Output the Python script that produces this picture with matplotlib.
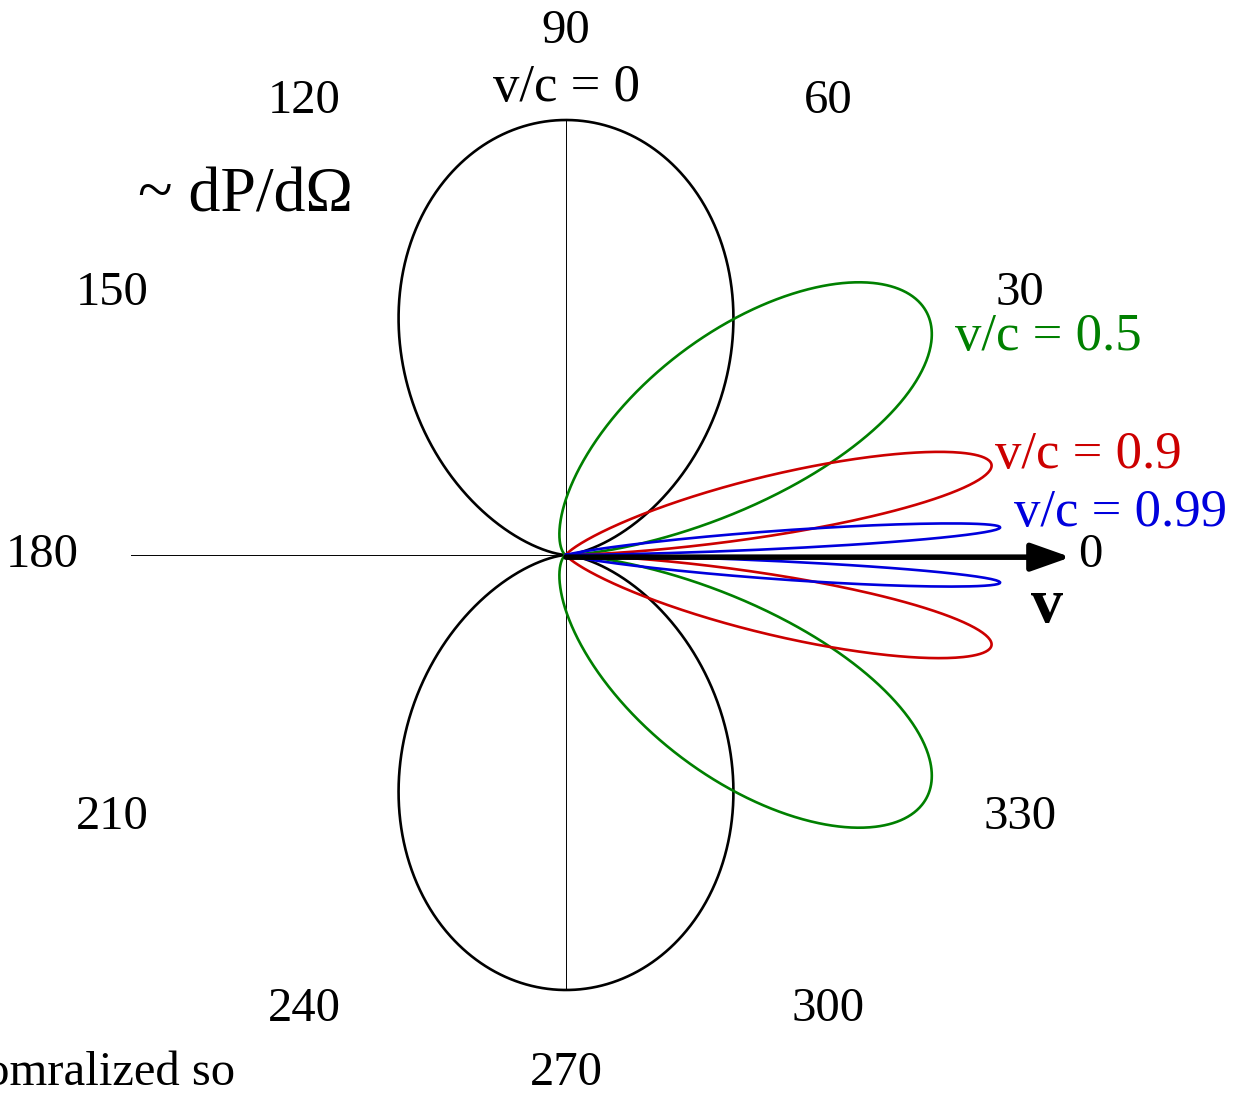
import numpy as np
import matplotlib
matplotlib.use("Agg")
import matplotlib.pyplot as plt

# velocities (v/c) and their colours
betas = [0.0, 0.5, 0.9, 0.99]
colors = ["black", "#008000", "#cc0000", "#0000dd"]
curve_labels = ["v/c = 0", "v/c = 0.5", "v/c = 0.9", "v/c = 0.99"]
angle_ticks = [0, 30, 60, 90, 120, 150, 180, 210, 240, 270, 300, 330]

plt.rcParams['font.family'] = ['Liberation Serif', 'DejaVu Serif']

fig = plt.figure(figsize=(12.48, 10.98), dpi=100)
ax = fig.add_axes([0, 0, 1, 1])
ax.set_xlim(-566 / 435, (1248 - 566) / 435)
ax.set_ylim((555 - 1098) / 435, 555 / 435)
ax.set_aspect('equal')
ax.axis('off')

# axis lines
ax.plot([-1.0, 0], [0, 0], color='black', lw=0.7)
ax.plot([0, 0], [-1, 1], color='black', lw=0.7)

# radiation pattern ~ sin^2 / (1 - b cos)^6, each normalised to 1
th = np.linspace(0, 2 * np.pi, 3000)
for b, c in zip(betas, colors):
    r = np.sin(th) ** 2 / (1 - b * np.cos(th)) ** 6
    r = r / r.max()
    ax.plot(r * np.cos(th), r * np.sin(th), color=c, lw=1.9)

# velocity arrow
ax.annotate('', xy=(1.16, -0.005), xytext=(0, -0.005),
            arrowprops=dict(arrowstyle='-|>,head_length=2.4,head_width=0.85',
                            color='black', lw=4, shrinkA=0, shrinkB=0))

# angle labels
for a in angle_ticks:
    t = np.deg2rad(a)
    rr = 1.19 if a == 270 else 1.205
    ax.text(rr * np.cos(t), rr * np.sin(t), str(a), fontsize=35,
            ha='center', va='center')

ax.text(0, 1.074, curve_labels[0], fontsize=38, ha='center', va='center', color=colors[0])
ax.text(1.108, 0.501, curve_labels[1], fontsize=38, ha='center', va='center', color=colors[1])
ax.text(1.20, 0.23, curve_labels[2], fontsize=38, ha='center', va='center', color=colors[2])
ax.text(1.274, 0.097, curve_labels[3], fontsize=38, ha='center', va='center', color=colors[3])
ax.text(1.106, -0.12, 'v', fontsize=46, fontweight='bold', ha='center', va='center')
ax.text(-0.738, 0.823, '~ dP/dΩ', fontsize=46, ha='center', va='center')
ax.text(-0.761, -1.191, 'Nomralized so', fontsize=35, ha='right', va='center')

fig.savefig('out.png', dpi=100)
